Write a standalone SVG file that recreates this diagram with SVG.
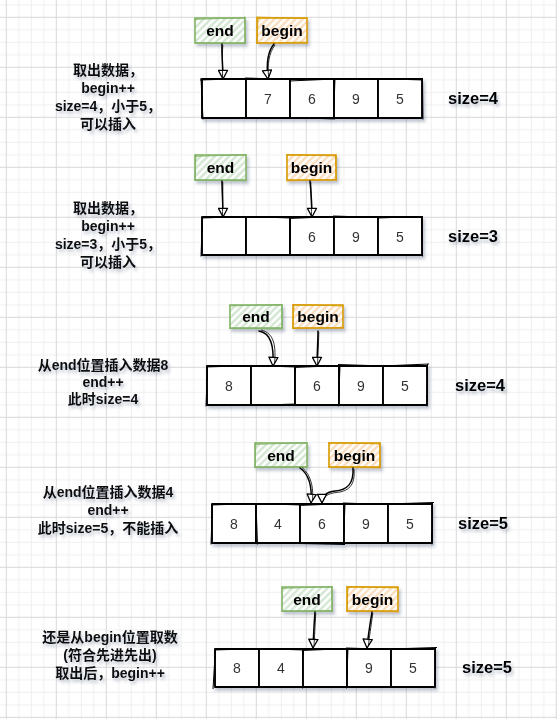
<svg xmlns="http://www.w3.org/2000/svg" width="557" height="719" viewBox="0 0 557 719">
<defs>
<pattern id="grid" patternUnits="userSpaceOnUse" x="5.8" y="16.8" width="50" height="50">
<path d="M13 0V50M25.5 0V50M38 0V50M0 13H50M0 25.5H50M0 38H50" stroke="#efefef" stroke-width="1" fill="none"/>
<path d="M0.5 0V50M0 0.5H50" stroke="#d8d8d8" stroke-width="1" fill="none"/>
</pattern>
<pattern id="hatchG" patternUnits="userSpaceOnUse" width="5" height="5" patternTransform="rotate(-45)">
<rect width="5" height="5" fill="#ffffff"/>
<path d="M0 2.5H5" stroke="#cfe3cd" stroke-width="2.2"/>
</pattern>
<pattern id="hatchO" patternUnits="userSpaceOnUse" width="5" height="5" patternTransform="rotate(-45)">
<rect width="5" height="5" fill="#ffffff"/>
<path d="M0 2.5H5" stroke="#fbd9b5" stroke-width="2.2"/>
</pattern>
<filter id="sh" x="-20%" y="-20%" width="150%" height="160%">
<feDropShadow dx="2" dy="3" stdDeviation="1.6" flood-color="#3b4a6b" flood-opacity="0.3"/>
</filter>
<marker id="arr" viewBox="0 0 12 12" refX="10.5" refY="6" markerWidth="11" markerHeight="11" markerUnits="userSpaceOnUse" orient="auto">
<path d="M1 1L10.5 6L1 11Z" fill="#fff" stroke="#000" stroke-width="1.4" stroke-linejoin="round"/>
</marker>
</defs>
<style>
.lbl{font-family:"Liberation Sans","Noto Sans CJK SC",sans-serif;font-weight:bold;font-size:15.5px;fill:#000;text-anchor:middle}
.num{font-family:"Liberation Sans",sans-serif;font-size:14px;fill:#333;text-anchor:middle}
.size{font-family:"Liberation Sans",sans-serif;font-weight:bold;font-size:16.5px;fill:#000}
.note{font-family:"Liberation Sans","Noto Sans CJK SC",sans-serif;font-weight:bold;font-size:14px;fill:#111;text-anchor:middle}
.cell{fill:#fff;stroke:#000;stroke-width:1.9;stroke-linejoin:round}
.sk{fill:none;stroke:#000;stroke-width:1}
.gbox{fill:url(#hatchG);stroke:#82b366;stroke-width:1.6}
.obox{fill:url(#hatchO);stroke:#d79b00;stroke-width:1.6}
.skg{fill:none;stroke:#82b366;stroke-width:0.8}
.sko{fill:none;stroke:#d79b00;stroke-width:0.8}
.con{fill:none;stroke:#000;stroke-width:1.5;stroke-linecap:round}
.con2{fill:none;stroke:#000;stroke-width:0.8}
</style>
<rect width="557" height="719" fill="#fff"/>
<rect width="557" height="719" fill="url(#grid)"/>

<!-- Section 1 -->
<g id="s1-note" filter="url(#sh)">
<text class="note" x="108" y="75">取出数据，</text>
<text class="note" x="108" y="93">begin++</text>
<text class="note" x="108" y="111">size=4，小于5，</text>
<text class="note" x="108" y="129">可以插入</text>
</g>
<g id="s1-end" filter="url(#sh)">
<rect class="gbox" x="195" y="18" width="50" height="25"/>
<path class="skg" d="M194 19.5L246 17.5M244.5 16.5L245.5 44M196 42.5L246 43.5"/>
<text class="lbl" x="220" y="36">end</text>
</g>
<g id="s1-begin" filter="url(#sh)">
<rect class="obox" x="257" y="18" width="50" height="25"/>
<path class="sko" d="M256 17L308 18.5M258 17L257 44M256 43L308 42"/>
<text class="lbl" x="282" y="36">begin</text>
</g>
<g id="s1-array" filter="url(#sh)">
<g id="s1-c1"><rect class="cell" x="202" y="79" width="44" height="39"/><path class="sk" d="M200 80L247 78.5M201 78L203 119.5"/></g>
<g id="s1-c2"><rect class="cell" x="246" y="79" width="44" height="39"/><path class="sk" d="M245 78L291 79.5M290.5 78L289.5 119"/><text class="num" x="268" y="104">7</text></g>
<g id="s1-c3"><rect class="cell" x="290" y="79" width="44" height="39"/><path class="sk" d="M289 81L335 79M289 117.5L335 119"/><text class="num" x="312" y="104">6</text></g>
<g id="s1-c4"><rect class="cell" x="334" y="79" width="44" height="39"/><path class="sk" d="M333 79.5L379 78.5M335 78L333.5 119"/><text class="num" x="356" y="104">9</text></g>
<g id="s1-c5"><rect class="cell" x="378" y="79" width="44" height="39"/><path class="sk" d="M377 78.5L423 80M422.5 78L423 119.5"/><text class="num" x="400" y="104">5</text></g>
</g>
<g id="s1-size" filter="url(#sh)"><text class="size" x="448" y="104">size=4</text></g>

<!-- Section 2 -->
<g id="s2-note" filter="url(#sh)">
<text class="note" x="108" y="213">取出数据，</text>
<text class="note" x="108" y="231">begin++</text>
<text class="note" x="108" y="249">size=3，小于5，</text>
<text class="note" x="108" y="267">可以插入</text>
</g>
<g id="s2-end" filter="url(#sh)">
<rect class="gbox" x="195" y="155" width="51" height="25"/>
<path class="skg" d="M194 156.5L247 154.5M196 154L195 181M194 180L247 181"/>
<text class="lbl" x="220.5" y="173">end</text>
</g>
<g id="s2-begin" filter="url(#sh)">
<rect class="obox" x="287" y="155" width="49" height="25"/>
<path class="sko" d="M286 154.5L337 156M335.5 154L336.5 181M286 181L337 179.5"/>
<text class="lbl" x="311.5" y="173">begin</text>
</g>
<g id="s2-array" filter="url(#sh)">
<g id="s2-c1"><rect class="cell" x="202" y="217" width="44" height="38"/><path class="sk" d="M201 218L247 216.5M202.5 216L201 256.5"/></g>
<g id="s2-c2"><rect class="cell" x="246" y="217" width="44" height="38"/><path class="sk" d="M245 216.5L291 218M245 255.5L291 254.5"/></g>
<g id="s2-c3"><rect class="cell" x="290" y="217" width="44" height="38"/><path class="sk" d="M289 218.5L335 216.5M290.5 216L289.5 256"/><text class="num" x="312" y="242">6</text></g>
<g id="s2-c4"><rect class="cell" x="334" y="217" width="44" height="38"/><path class="sk" d="M333 216L379 217.5M378.5 216L377.5 256"/><text class="num" x="356" y="242">9</text></g>
<g id="s2-c5"><rect class="cell" x="378" y="217" width="44" height="38"/><path class="sk" d="M377 218L423 216.5M421.5 216L422.5 256.5"/><text class="num" x="400" y="242">5</text></g>
</g>
<g id="s2-size" filter="url(#sh)"><text class="size" x="448" y="242">size=3</text></g>

<!-- Section 3 -->
<g id="s3-note" filter="url(#sh)">
<text class="note" x="103" y="370">从end位置插入数据8</text>
<text class="note" x="103" y="387">end++</text>
<text class="note" x="103" y="404">此时size=4</text>
</g>
<g id="s3-end" filter="url(#sh)">
<rect class="gbox" x="230" y="305" width="52" height="23"/>
<path class="skg" d="M229 306L283 304.5M281.5 304L282.5 329M229 328.5L283 329"/>
<text class="lbl" x="256" y="322">end</text>
</g>
<g id="s3-begin" filter="url(#sh)">
<rect class="obox" x="293" y="305" width="50" height="23"/>
<path class="sko" d="M292 304.5L344 306M294 304L293 329M292 328.5L344 327.5"/>
<text class="lbl" x="318" y="322">begin</text>
</g>
<g id="s3-array" filter="url(#sh)">
<g id="s3-c1"><rect class="cell" x="207" y="366" width="44" height="39"/><path class="sk" d="M206 367L252 365.5M207.5 365L206 406.5"/><text class="num" x="229" y="391">8</text></g>
<g id="s3-c2"><rect class="cell" x="251" y="366" width="44" height="39"/><path class="sk" d="M250 365.5L296 367M250 405.5L296 404"/></g>
<g id="s3-c3"><rect class="cell" x="295" y="366" width="44" height="39"/><path class="sk" d="M294 367.5L340 365.5M295 365L294.5 406"/><text class="num" x="317" y="391">6</text></g>
<g id="s3-c4"><rect class="cell" x="339" y="366" width="44" height="39"/><path class="sk" d="M338 364.5L384 366M340 365L338.5 406.5"/><text class="num" x="361" y="391">9</text></g>
<g id="s3-c5"><rect class="cell" x="383" y="366" width="44" height="39"/><path class="sk" d="M382 366L429 364M427.5 364L427 406.5"/><text class="num" x="405" y="391">5</text></g>
</g>
<g id="s3-size" filter="url(#sh)"><text class="size" x="455" y="391">size=4</text></g>

<!-- Section 4 -->
<g id="s4-note" filter="url(#sh)">
<text class="note" x="108" y="497">从end位置插入数据4</text>
<text class="note" x="108" y="515">end++</text>
<text class="note" x="108" y="533">此时size=5，不能插入</text>
</g>
<g id="s4-end" filter="url(#sh)">
<rect class="gbox" x="255" y="443" width="52" height="24"/>
<path class="skg" d="M254 444.5L308 442.5M256 442L255 468M254 467.5L308 466.5"/>
<text class="lbl" x="281" y="461">end</text>
</g>
<g id="s4-begin" filter="url(#sh)">
<rect class="obox" x="329" y="443" width="51" height="24"/>
<path class="sko" d="M328 442.5L381 444M379.5 442L380.5 468M328 467L381 468"/>
<text class="lbl" x="354.5" y="461">begin</text>
</g>
<g id="s4-array" filter="url(#sh)">
<g id="s4-c1"><rect class="cell" x="212" y="504" width="44" height="39"/><path class="sk" d="M211 505L257 503.5M212.5 503L211 544.5"/><text class="num" x="234" y="529">8</text></g>
<g id="s4-c2"><rect class="cell" x="256" y="504" width="44" height="39"/><path class="sk" d="M255 503.5L301 505M256 503L257.5 544.5"/><text class="num" x="278" y="529">4</text></g>
<g id="s4-c3"><rect class="cell" x="300" y="504" width="44" height="39"/><path class="sk" d="M299 505.5L345 503.5M299 543.5L345 544.5"/><text class="num" x="322" y="529">6</text></g>
<g id="s4-c4"><rect class="cell" x="344" y="504" width="44" height="39"/><path class="sk" d="M343 503L389 504.5M345 503L343.5 544.5"/><text class="num" x="366" y="529">9</text></g>
<g id="s4-c5"><rect class="cell" x="388" y="504" width="44" height="39"/><path class="sk" d="M387 504L434 502.5M432.5 502L432 544.5"/><text class="num" x="410" y="529">5</text></g>
</g>
<g id="s4-size" filter="url(#sh)"><text class="size" x="458" y="529">size=5</text></g>

<!-- Section 5 -->
<g id="s5-note" filter="url(#sh)">
<text class="note" x="110" y="642">还是从begin位置取数</text>
<text class="note" x="110" y="660">(符合先进先出)</text>
<text class="note" x="110" y="678">取出后，begin++</text>
</g>
<g id="s5-end" filter="url(#sh)">
<rect class="gbox" x="282" y="587" width="50" height="24"/>
<path class="skg" d="M281 588.5L333 586.5M331.5 586L332.5 612M281 611.5L333 610.5"/>
<text class="lbl" x="307" y="605">end</text>
</g>
<g id="s5-begin" filter="url(#sh)">
<rect class="obox" x="347" y="587" width="51" height="24"/>
<path class="sko" d="M346 586.5L399 588M348 586L347 612M346 611L399 612"/>
<text class="lbl" x="372.5" y="605">begin</text>
</g>
<g id="s5-array" filter="url(#sh)">
<g id="s5-c1"><rect class="cell" x="215" y="649" width="44" height="38"/><path class="sk" d="M214 650L260 648.5M215.5 648L213 689"/><text class="num" x="237" y="673">8</text></g>
<g id="s5-c2"><rect class="cell" x="259" y="649" width="44" height="38"/><path class="sk" d="M258 648.5L304 650M258 687.5L304 686.5"/><text class="num" x="281" y="673">4</text></g>
<g id="s5-c3"><rect class="cell" x="303" y="649" width="44" height="38"/><path class="sk" d="M302 650.5L348 648.5M303 648L302.5 688.5"/></g>
<g id="s5-c4"><rect class="cell" x="347" y="649" width="44" height="38"/><path class="sk" d="M346 648L392 649.5M348 648L346.5 688.5"/><text class="num" x="369" y="673">9</text></g>
<g id="s5-c5"><rect class="cell" x="391" y="649" width="44" height="38"/><path class="sk" d="M390 649L437 647.5M435.5 647L435 688.5"/><text class="num" x="413" y="673">5</text></g>
</g>
<g id="s5-size" filter="url(#sh)"><text class="size" x="462" y="673">size=5</text></g>

<!-- Connectors -->
<g id="connectors">
<path class="con" d="M222 44C221.5 55 223 66 223 79" marker-end="url(#arr)"/>
<path class="con2" d="M222.8 45C222 58 222.6 68 222.5 77"/>
<path class="con" d="M274 44C268 51 266 62 268 79" marker-end="url(#arr)"/>
<path class="con2" d="M275 45C269 53 267.3 64 268.6 77"/>

<path class="con" d="M222 181C222 192 223 204 223 217" marker-end="url(#arr)"/>
<path class="con2" d="M222.8 182C223 195 222.5 206 222.5 215"/>
<path class="con" d="M310 181C311 192 312 204 312 217" marker-end="url(#arr)"/>
<path class="con2" d="M310.8 182C311 195 311.5 206 311.5 215"/>

<path class="con" d="M259 331C271 333 274 346 273 366" marker-end="url(#arr)"/>
<path class="con2" d="M261 330C275 333 276 348 274.5 364"/>
<path class="con" d="M318 331C318 342 317 354 317 366" marker-end="url(#arr)"/>
<path class="con2" d="M318.8 332C318.5 346 317.8 356 317.6 364"/>

<path class="con" d="M300 468C310 475 312 490 311 503" marker-end="url(#arr)"/>
<path class="con2" d="M302 467.5C312.5 476 313.5 491 312.4 501"/>
<path class="con" d="M353 468C354 484 347 490 335 491C326 492 322 496 322 503" marker-end="url(#arr)"/>
<path class="con2" d="M354 469C355.5 486 348 491.5 336 492.5C327.5 493.5 323.5 497 323.3 501"/>

<path class="con" d="M315 612C314 624 313.5 636 313 648" marker-end="url(#arr)"/>
<path class="con2" d="M315.8 613C315 627 314.5 637 314 646"/>
<path class="con" d="M372 612C370 624 368 636 367 648" marker-end="url(#arr)"/>
<path class="con2" d="M372.8 613C371 627 369.2 637 368.4 646"/>
</g>
</svg>
